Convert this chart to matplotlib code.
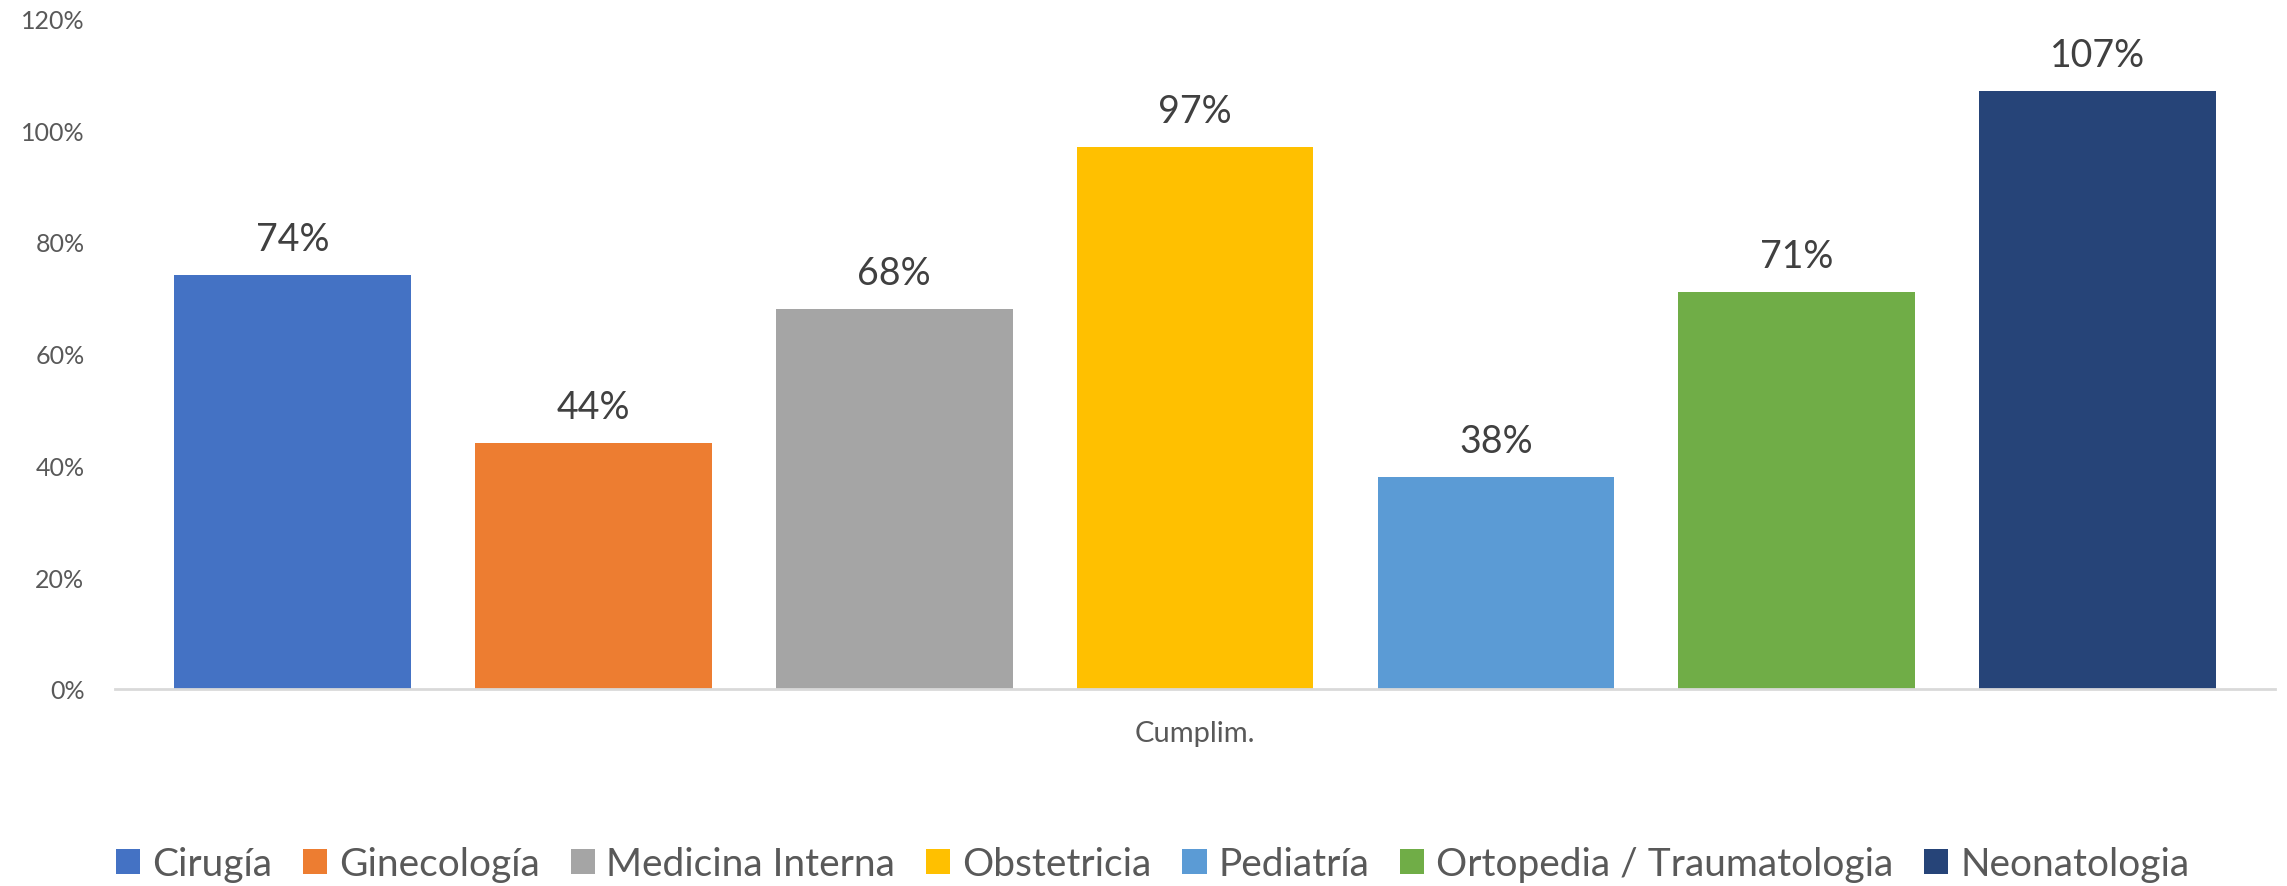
import matplotlib
matplotlib.use("Agg")
import matplotlib.pyplot as plt
from matplotlib.patches import Patch

# Cumplimiento por servicio
servicios = ['Cirugía', 'Ginecología', 'Medicina Interna', 'Obstetricia',
             'Pediatría', 'Ortopedia / Traumatologia', 'Neonatologia']
cumplimiento = [0.74, 0.44, 0.68, 0.97, 0.38, 0.71, 1.07]
colores = ['#4472C4', '#ED7D31', '#A5A5A5', '#FFC000',
           '#5B9BD5', '#70AD47', '#264478']
yticks = [0, 0.2, 0.4, 0.6, 0.8, 1.0, 1.2]

plt.rcParams['font.family'] = ['Lato', 'DejaVu Sans']

fig = plt.figure(figsize=(22.87, 8.87), dpi=100)
ax = fig.add_axes([0.0503, 0.2221, 0.9445, 0.7560])

x = range(len(servicios))
bars = ax.bar(x, cumplimiento, width=0.787, color=colores)

for xi, v in zip(x, cumplimiento):
    ax.annotate(f'{v:.0%}', (xi, v), xytext=(0, 13), textcoords='offset points',
                ha='center', va='bottom', fontsize=27, color='#404040')

ax.set_xlim(-0.5896, len(servicios) - 1 + 0.5896)
ax.set_ylim(0, 1.2)
ax.set_yticks(yticks)
ax.set_yticklabels([f'{t:.0%}' for t in yticks], fontsize=18, color='#595959')
ax.tick_params(axis='y', length=0, pad=22)
ax.set_xticks([])

for s in ['top', 'right', 'left']:
    ax.spines[s].set_visible(False)
ax.spines['bottom'].set_color('#D9D9D9')
ax.spines['bottom'].set_linewidth(2)

ax.text(0.5, -0.066, 'Cumplim.', transform=ax.transAxes, ha='center', va='center',
        fontsize=21, color='#595959')

handles = [Patch(facecolor=c, label=s) for c, s in zip(colores, servicios)]
fig.legend(handles=handles, loc='center', bbox_to_anchor=(0.504, 0.025), ncol=7,
           frameon=False, fontsize=28, labelcolor='#595959',
           handlelength=0.62, handleheight=0.62, handletextpad=0.3,
           columnspacing=0.8, borderaxespad=0)

fig.savefig('out.png', dpi=100)
